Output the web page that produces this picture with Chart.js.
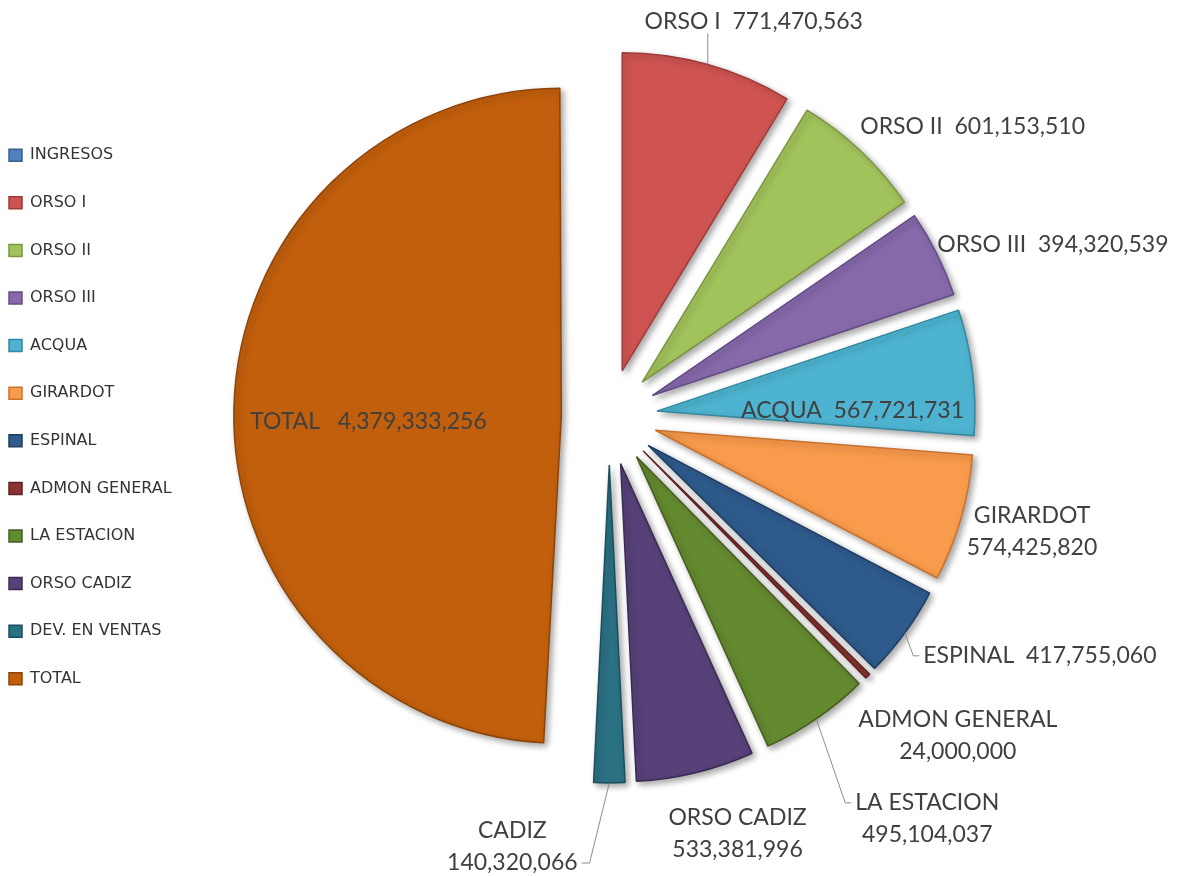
<!DOCTYPE html>
<html>
<head>
<meta charset="utf-8">
<title>Ingresos por punto de venta</title>
<script src="https://cdn.jsdelivr.net/npm/chart.js@4.4.1/dist/chart.umd.min.js"></script>
<style>
  html, body { margin: 0; padding: 0; background: #ffffff; }
  #contenedor { width: 1182px; height: 876px; }
</style>
</head>
<body>
<div id="contenedor"><canvas id="torta"></canvas></div>
<script>
// categorias de la leyenda
const categorias = [
    'INGRESOS', 'ORSO I', 'ORSO II', 'ORSO III', 'ACQUA', 'GIRARDOT', 'ESPINAL',
    'ADMON GENERAL', 'LA ESTACION', 'ORSO CADIZ', 'DEV. EN VENTAS', 'TOTAL'
]
// nombres que salen en las etiquetas de cada porcion
const nombres = [
    null, 'ORSO I', 'ORSO II', 'ORSO III', 'ACQUA', 'GIRARDOT', 'ESPINAL',
    'ADMON GENERAL', 'LA ESTACION', 'ORSO CADIZ', 'CADIZ', 'TOTAL'
]
const valores = [
    null, 771470563, 601153510, 394320539, 567721731, 574425820, 417755060,
    24000000, 495104037, 533381996, 140320066, 4379333256
]

const colores = [
    '#4F81BD', '#CF5451', '#A2C35C', '#8669AA', '#4DB3D0', '#F99B4C', '#2E5A8C',
    '#8A3330', '#648A30', '#574179', '#2A7184', '#C25F0C'
]
const bordes = [
    '#3A6191', '#9E3A38', '#7A9440', '#634C85', '#36889F', '#C8722E', '#1E3D61',
    '#5E2220', '#465F20', '#3A2B52', '#1B4E5C', '#8C4408'
]
// el TOTAL se dibuja un poco mas grande (offset de Chart.js agranda el radio)
const desplazamientos = [0, 0, 0, 0, 0, 0, 0, 0, 0, 0, 0, 40]

const RADIO = 318;       // radio de la torta
const SEPARACION = 48;   // cuanto se separa cada porcion del centro

// ubicacion de cada etiqueta, medida desde el borde exterior de su porcion
const posEtiquetas = [
    null,
    { dx: 46, dy: -43, lineas: 1, guia: 'abajo' },
    { dx: 112, dy: -24, lineas: 1 },
    { dx: 116, dy: -9, lineas: 1 },
    { dx: -120, dy: 38, lineas: 1 },
    { dx: 71, dy: 13, lineas: 2 },
    { dx: 135, dy: 23, lineas: 1, guia: 'izq' },
    { dx: 90, dy: 59, lineas: 2 },
    { dx: 111, dy: 100, lineas: 2, guia: 'izq' },
    { dx: 42, dy: 61, lineas: 2 },
    { dx: -97, dy: 64, lineas: 2, guia: 'der' },
    { dx: 125, dy: 14, lineas: 1, sep: '   ' }
]

const formato = v => v.toLocaleString('en-US');

// dibuja las porciones separadas, con sombra
const separar = {
    id: 'separar',
    beforeDatasetDraw(chart, args) {
        const ctx = chart.ctx;
        args.meta.data.forEach(arco => {
            if (!arco.circumference) return;
            const medio = (arco.startAngle + arco.endAngle) / 2;
            // arc.draw ya mueve la porcion offset/4, se descuenta aqui
            const d = SEPARACION - (arco.options.offset || 0) / 4;
            ctx.save();
            ctx.translate(Math.cos(medio) * d, Math.sin(medio) * d);
            ctx.shadowColor = 'rgba(0, 0, 0, 0.35)';
            ctx.shadowBlur = 6;
            ctx.shadowOffsetX = 3;
            ctx.shadowOffsetY = 3;
            arco.draw(ctx);
            ctx.restore();
        });
        return false;
    }
};

// etiquetas de datos con lineas guia
const etiquetasDatos = {
    id: 'etiquetasDatos',
    afterDatasetsDraw(chart) {
        const ctx = chart.ctx;
        const meta = chart.getDatasetMeta(0);
        ctx.save();
        ctx.font = '23px Lato';
        ctx.fillStyle = '#404040';
        ctx.strokeStyle = '#8c8c8c';
        ctx.lineWidth = 1;
        ctx.textAlign = 'center';
        ctx.textBaseline = 'middle';
        meta.data.forEach((arco, i) => {
            const pos = posEtiquetas[i];
            if (!pos || valores[i] == null) return;
            const medio = (arco.startAngle + arco.endAngle) / 2;
            const r = arco.outerRadius + SEPARACION;
            const px = arco.x + Math.cos(medio) * r;
            const py = arco.y + Math.sin(medio) * r;
            const cx = px + pos.dx;
            const cy = py + pos.dy;
            const textos = pos.lineas === 2
                ? [nombres[i], formato(valores[i])]
                : [nombres[i] + (pos.sep || '  ') + formato(valores[i])];
            const ys = textos.map((t, k) => cy + (k - (textos.length - 1) / 2) * 32);
            textos.forEach((t, k) => ctx.fillText(t, cx, ys[k]));

            if (pos.guia) {
                ctx.beginPath();
                ctx.moveTo(px, py);
                if (pos.guia === 'abajo') {
                    ctx.lineTo(px, cy + 12);
                } else if (pos.guia === 'izq') {
                    const fin = cx - ctx.measureText(textos[0]).width / 2 - 4;
                    ctx.lineTo(fin - 6, ys[0]);
                    ctx.lineTo(fin, ys[0]);
                } else {
                    const ult = textos.length - 1;
                    const fin = cx + ctx.measureText(textos[ult]).width / 2 + 4;
                    ctx.lineTo(fin + 8, ys[ult]);
                    ctx.lineTo(fin, ys[ult]);
                }
                ctx.stroke();
            }
        });
        ctx.restore();
    }
};

const data = {
    labels: categorias,
    datasets: [{
        label: 'Ingresos',
        data: valores,
        backgroundColor: colores,
        borderColor: bordes,
        borderWidth: 1.5,
        offset: desplazamientos,
        radius: RADIO,
        clip: false
    }]
};

const config = {
    type: 'pie',
    data: data,
    options: {
        responsive: true,
        maintainAspectRatio: false,
        animation: false,
        layout: {
            padding: { left: -22.6, right: 145, top: 0, bottom: 42 }
        },
        plugins: {
            tooltip: { enabled: false },
            legend: {
                position: 'left',
                labels: {
                    font: { family: 'DejaVu Sans', size: 16 },
                    color: '#333333',
                    boxWidth: 13,
                    boxHeight: 12,
                    padding: 31.6
                }
            }
        }
    },
    plugins: [separar, etiquetasDatos]
};

const torta = new Chart(document.getElementById('torta'), config);
</script>
</body>
</html>
